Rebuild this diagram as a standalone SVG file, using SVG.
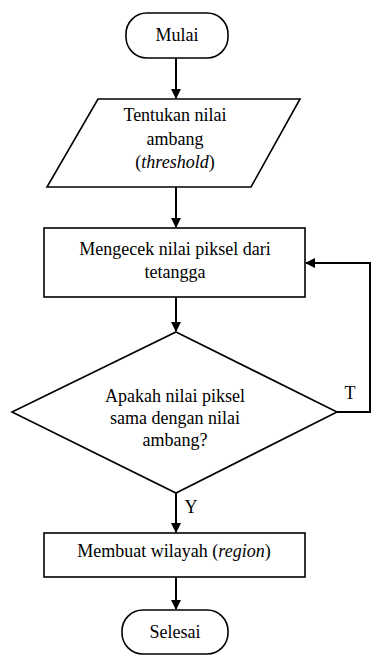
<svg xmlns="http://www.w3.org/2000/svg" width="371" height="655" viewBox="0 0 371 655">
<style>
.s{fill:#fff;stroke:#000;stroke-width:1.6}
.t{font-family:"Liberation Serif",serif;font-size:18px;fill:#000;text-anchor:middle}
.c{fill:none;stroke:#000;stroke-width:2}
</style>
<defs>
<marker id="ah" markerWidth="10" markerHeight="10" refX="9" refY="5" orient="auto" markerUnits="userSpaceOnUse">
<path d="M0,0 L10,5 L0,10 Z" fill="#000"/>
</marker>
</defs>
<rect width="371" height="655" fill="#fff"/>
<g id="connectors">
<line class="c" x1="176" y1="58" x2="176" y2="98" marker-end="url(#ah)"/>
<line class="c" x1="176" y1="187" x2="176" y2="227" marker-end="url(#ah)"/>
<line class="c" x1="176" y1="297" x2="176" y2="331" marker-end="url(#ah)"/>
<line class="c" x1="176" y1="493" x2="176" y2="532" marker-end="url(#ah)"/>
<line class="c" x1="176" y1="577" x2="176" y2="609" marker-end="url(#ah)"/>
<polyline class="c" points="337,412 370,412 370,263 306,263" marker-end="url(#ah)"/>
<text class="t" x="350" y="399">T</text>
<text class="t" x="191" y="513">Y</text>
</g>
<g id="mulai">
<rect class="s" x="126" y="13" width="102" height="45" rx="21"/>
<text class="t" x="177" y="41">Mulai</text>
</g>
<g id="threshold">
<polygon class="s" points="98,99 300,99 251,187 47,187"/>
<text class="t" x="175" y="121">Tentukan nilai</text>
<text class="t" x="175" y="145">ambang</text>
<text class="t" x="175" y="168">(<tspan font-style="italic">threshold</tspan>)</text>
</g>
<g id="cek">
<rect class="s" x="44" y="228" width="261" height="69"/>
<text class="t" x="175" y="255">Mengecek nilai piksel dari</text>
<text class="t" x="175" y="278">tetangga</text>
</g>
<g id="keputusan">
<polygon class="s" points="176,332 337,412 176,493 12,412"/>
<text class="t" x="175" y="402">Apakah nilai piksel</text>
<text class="t" x="175" y="424">sama dengan nilai</text>
<text class="t" x="175" y="446">ambang?</text>
</g>
<g id="region">
<rect class="s" x="44" y="533" width="261" height="44"/>
<text class="t" x="174" y="557">Membuat wilayah (<tspan font-style="italic">region</tspan>)</text>
</g>
<g id="selesai">
<rect class="s" x="122" y="610" width="106" height="44" rx="21"/>
<text class="t" x="175" y="638">Selesai</text>
</g>
</svg>
